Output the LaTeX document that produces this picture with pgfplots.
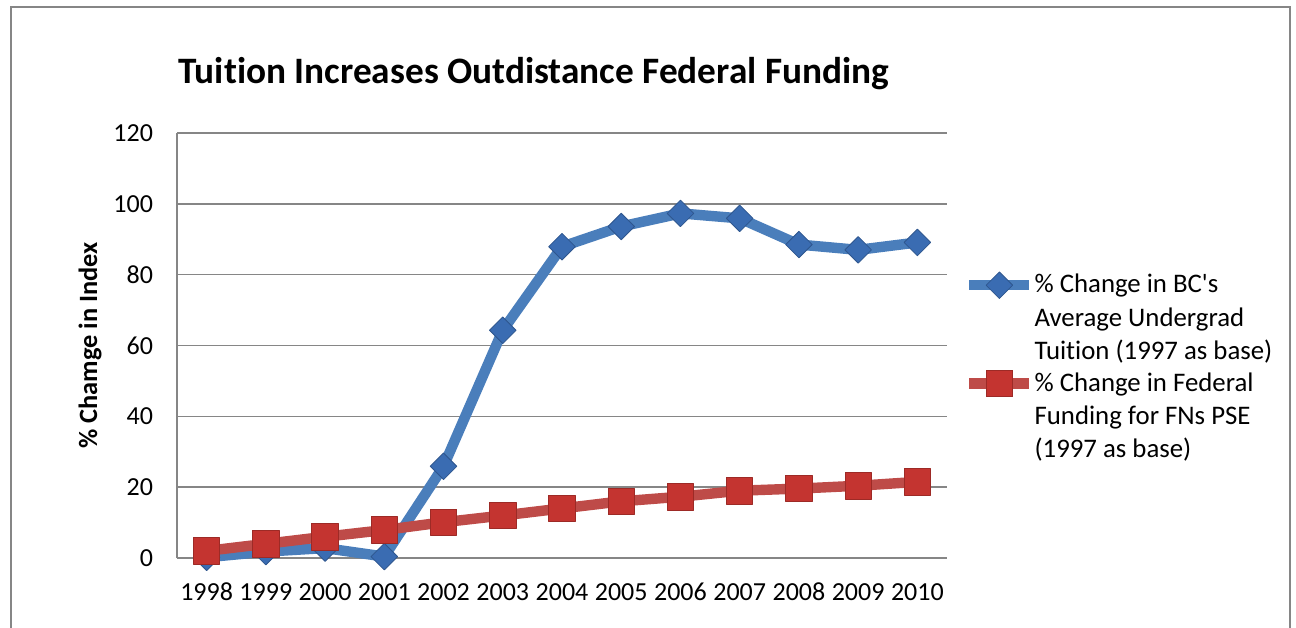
\documentclass[border=0pt]{standalone}
\usepackage{pgfplots}
\pgfplotsset{compat=1.18}
\usepackage{fontspec}
\setmainfont{Carlito}[Ligatures={TeXOff,CommonOff}]
\definecolor{bline}{RGB}{74,126,187}
\definecolor{bmark}{RGB}{58,108,178}
\definecolor{rline}{RGB}{190,75,72}
\definecolor{rmark}{RGB}{196,52,48}
\definecolor{gridg}{RGB}{134,134,134}
\begin{document}
\begin{tikzpicture}
\draw[gridg, line width=1.2pt] (5.5pt,-5pt) -- (5.5pt,310pt) -- (645pt,310pt) -- (645pt,-5pt);
\node[anchor=base west, font=\bfseries\fontsize{18.65}{21}\selectfont, inner sep=0pt] at (89pt,271.5pt) {Tuition Increases Outdistance Federal Funding};
\begin{axis}[
  at={(88.5pt,34.5pt)}, anchor=south west,
  scale only axis, width=385pt, height=212.5pt,
  xmin=-0.5, xmax=12.5, ymin=0, ymax=120,
  xtick={0,...,12},
  xticklabels={1998,1999,2000,2001,2002,2003,2004,2005,2006,2007,2008,2009,2010},
  ytick={0,20,...,120},
  ymajorgrids, grid style={gridg, line width=0.8pt},
  axis x line*=bottom, axis y line*=left,
  axis line style={gridg, line width=0.8pt, -},
  major tick length=0pt,
  tick label style={font=\fontsize{13}{15}\selectfont},
  /pgf/number format/assume math mode=true,
  xticklabel style={anchor=base, yshift=-21pt},
  yticklabel style={xshift=-8.5pt},
  ylabel={\% Chamge in Index},
  ylabel style={at={(axis description cs:-0.113,0.5)}, anchor=center, font=\bfseries\fontsize{13.2}{15}\selectfont},
  clip=false,
  legend style={draw=none, at={(1.014,0.695)}, anchor=north west, fill=none,
    row sep=-2pt, column sep=0pt,
    nodes={align=left, font=\fontsize{13.4}{16.6}\selectfont, inner sep=0pt}},
  legend cell align=left,
  legend image code/.code={%
    \draw[#1, mark repeat=2, mark phase=2] plot coordinates {(0pt,16.5pt) (15pt,16.5pt) (30pt,16.5pt)};
    \path (0pt,-23pt) (0pt,23pt);},
]
\addplot[bline, line width=5.2pt, line join=round, mark=square*, mark size=4.7pt,
  mark options={fill=bmark, draw=bmark!80!black, line width=0.4pt, rotate=45}]
  coordinates {(0,0.2) (1,1.8) (2,2.8) (3,0.4) (4,25.9) (5,64.3) (6,87.9) (7,93.6) (8,97.3) (9,95.9) (10,88.5) (11,87.0) (12,89.1)};
\addlegendentry{\% Change in BC's\\Average Undergrad\\Tuition (1997 as base)}
\addplot[rline, line width=5.2pt, line join=round, mark=square*, mark size=6.6pt,
  mark options={fill=rmark, draw=rmark!80!black, line width=0.4pt}]
  coordinates {(0,2.0) (1,4.0) (2,6.0) (3,7.9) (4,10.1) (5,12.0) (6,14.0) (7,16.0) (8,17.3) (9,19.0) (10,19.6) (11,20.4) (12,21.5)};
\addlegendentry{\% Change in Federal\\Funding for FNs PSE\\(1997 as base)}
\end{axis}
\pgfresetboundingbox
\useasboundingbox (0,0) rectangle (648pt,313.5pt);
\end{tikzpicture}
\end{document}
